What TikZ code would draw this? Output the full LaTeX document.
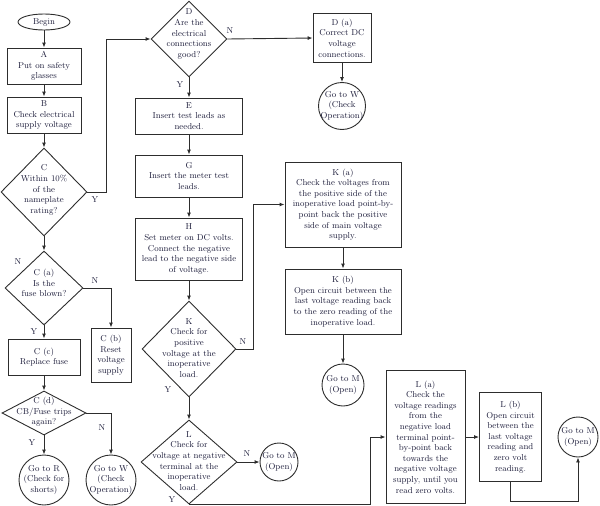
\documentclass[tikz,border=0pt]{standalone}
\usetikzlibrary{shapes.geometric,arrows.meta}
\definecolor{ink}{RGB}{28,28,58}
\definecolor{edge}{RGB}{45,45,45}
\begin{document}
\begin{tikzpicture}[x=1pt,y=-1pt,
  every node/.style={font=\fontsize{8.6}{10.6}\selectfont, text=ink, align=center},
  box/.style={draw=edge, line width=0.9pt, rectangle, inner sep=1pt},
  dia/.style={draw=edge, line width=0.9pt, diamond, inner sep=0pt},
  term/.style={draw=edge, line width=0.9pt, circle, inner sep=0pt},
  oval/.style={draw=edge, line width=0.9pt, ellipse, inner sep=0pt},
  lab/.style={inner sep=0pt},
  flow/.style={draw=edge, line width=0.9pt, -{Latex[length=5pt,width=4pt]}},
  link/.style={draw=edge, line width=0.9pt}
]
\useasboundingbox (0,0) rectangle (600,506);

% ---- left column
\node[oval, minimum width=52, minimum height=16] (begin) at (44,22) {Begin};
\node[box, minimum width=74, minimum height=36] (A) at (44,66) {A\\Put on safety\\glasses};
\node[box, minimum width=74, minimum height=36] (B) at (44,115) {B\\Check electrical\\supply voltage};
\node[dia, minimum width=86, minimum height=88] (C) at (44,192) {};
\node[lab] (Ct) at (44,190) {C\\Within 10\%\\of the\\nameplate\\rating?};
\node[dia, minimum width=78, minimum height=74] (Ca) at (44,288) {};
\node[lab] (Cat) at (44,283) {C (a)\\Is the\\fuse blown?};
\node[box, minimum width=40, minimum height=54] (Cb) at (111,355) {C (b)\\Reset\\voltage\\supply};
\node[box, minimum width=72, minimum height=36] (Cc) at (44,357) {C (c)\\Replace fuse};
\node[dia, minimum width=84, minimum height=44] (Cd) at (44,413) {};
\node[lab] (Cdt) at (44,412) {C (d)\\CB/Fuse trips\\again?};
\node[term, minimum size=50] (R) at (44,480) {};
\node[lab] (Rt) at (44,480) {Go to R\\(Check for\\shorts)};
\node[term, minimum size=50] (W1) at (111,480) {};
\node[lab] (W1t) at (111,480) {Go to W\\(Check\\Operation)};

% ---- middle column
\node[dia, minimum width=76, minimum height=76] (D) at (189,39) {};
\node[lab] (Dt) at (189,34) {D\\Are the\\electrical\\connections\\good?};
\node[box, minimum width=58, minimum height=49] (Da) at (342,38) {D (a)\\Correct DC\\voltage\\connections.};
\node[term, minimum size=47] (W2) at (342,106) {};
\node[lab] (W2t) at (342,106) {Go to W\\(Check\\Operation)};
\node[box, minimum width=107, minimum height=36] (E) at (189,116) {E\\Insert test leads as\\needed.};
\node[box, minimum width=107, minimum height=42] (G) at (189,176) {G\\Insert the meter test\\leads.};
\node[box, minimum width=107, minimum height=62] (H) at (189,249) {H\\Set meter on DC volts.\\Connect the negative\\lead to the negative side\\of voltage.};
\node[dia, minimum width=94, minimum height=96] (K) at (189,349) {};
\node[lab] (Kt) at (189,348) {K\\Check for\\positive\\voltage at the\\inoperative\\load.};
\node[dia, minimum width=96, minimum height=84] (L) at (189,462) {};
\node[lab] (Lt) at (189,461) {L\\Check for\\voltage at negative\\terminal at the\\inoperative\\load.};
\node[term, minimum size=38] (M1) at (279,462) {};
\node[lab] (M1t) at (279,462) {Go to M\\(Open)};

% ---- right part
\node[box, minimum width=116, minimum height=85] (Ka) at (343,204.5) {K (a)\\Check the voltages from\\the positive side of the\\inoperative load point-by-\\point back the positive\\side of main voltage\\supply.};
\node[box, minimum width=116, minimum height=65] (Kb) at (343,301.5) {K (b)\\Open circuit between the\\last voltage reading back\\to the zero reading of the\\inoperative load.};
\node[term, minimum size=42] (M2) at (343,385) {};
\node[lab] (M2t) at (343,385) {Go to M\\(Open)};
\node[box, minimum width=79, minimum height=133] (La) at (425.5,437) {L (a)\\Check the\\voltage readings\\from the\\negative load\\terminal point-\\by-point back\\towards the\\negative voltage\\supply, until you\\read zero volts.};
\node[box, minimum width=62, minimum height=89] (Lb) at (510.5,437) {L (b)\\Open circuit\\between the\\last voltage\\reading and\\zero volt\\reading.};
\node[term, minimum size=40] (M3) at (578,437) {};
\node[lab] (M3t) at (578,437) {Go to M\\(Open)};

% ---- Y/N labels
\node[lab] (yC) at (95,200) {Y};
\node[lab] (nC) at (18,262) {N};
\node[lab] (nCa) at (95,281) {N};
\node[lab] (yCa) at (34,332) {Y};
\node[lab] (nCd) at (102,428) {N};
\node[lab] (yCd) at (32,443) {Y};
\node[lab] (nD) at (230,31) {N};
\node[lab] (yD) at (180,85) {Y};
\node[lab] (nK) at (243,342) {N};
\node[lab] (yK) at (168,390) {Y};
\node[lab] (nL) at (247,454) {N};
\node[lab] (yL) at (172,500) {Y};

% ---- connectors
\draw[flow] (begin.south) -- (A.north);
\draw[flow] (A.south) -- (B.north);
\draw[flow] (B.south) -- (C.north);
\draw[flow] (C.east) -- ++(19,0) |- (D.west);
\draw[flow] (C.south) -- (Ca.north);
\draw[flow] (Ca.east) -| (Cb.north);
\draw[flow] (Ca.south) -- (Cc.north);
\draw[flow] (Cc.south) -- (Cd.north);
\draw[flow] (Cd.east) -| (W1.north);
\draw[flow] (Cd.south) -- (R.north);
\draw[flow] (D.east) -- (Da.west);
\draw[flow] (Da.south) -- (W2.north);
\draw[flow] (D.south) -- (E.north);
\draw[flow] (E.south) -- (G.north);
\draw[flow] (G.south) -- (H.north);
\draw[flow] (H.south) -- (K.north);
\draw[flow] (K.east) -- ++(17,0) |- (Ka.west);
\draw[flow] (K.south) -- (L.north);
\draw[flow] (L.east) -- (M1.west);
\draw[flow] (Ka.south) -- (Kb.north);
\draw[flow] (Kb.south) -- (M2.north);
\draw[flow] (L.south) -- ++(181,0) |- (La.west);
\draw[flow] (La.east) -- (Lb.west);
\draw[flow] (Lb.south) -- ++(0,19) -| (M3.south);
\end{tikzpicture}
\end{document}
